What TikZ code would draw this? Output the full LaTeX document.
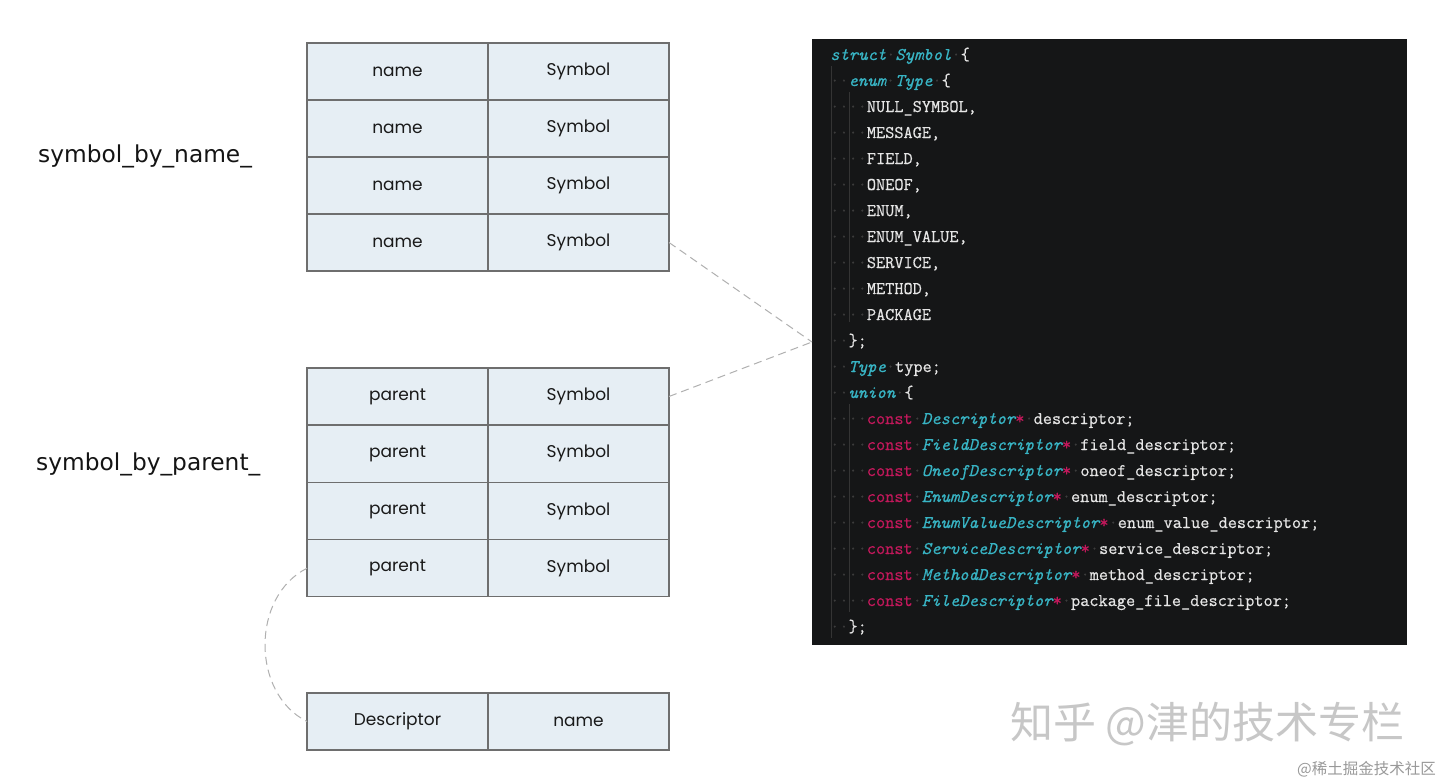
\documentclass[tikz,border=0pt]{standalone}
\usepackage{fontspec}
\setmainfont{Poppins}
\newfontfamily\lblfont{DejaVu Sans}
\newfontfamily\cjkfont{Noto Sans CJK SC}
\newfontfamily\codefont[FakeBold=0.5]{Latin Modern Mono}
\usetikzlibrary{positioning}
\definecolor{cellfill}{HTML}{E6EEF4}
\definecolor{celldraw}{HTML}{6E6E6E}
\definecolor{codebg}{HTML}{151617}
\definecolor{cyanish}{HTML}{38B4C4}
\definecolor{crim}{HTML}{C2185B}
\definecolor{codefg}{HTML}{E6E6E6}
\definecolor{dimdot}{HTML}{3C3C3C}
\definecolor{guide}{HTML}{343434}
\definecolor{dashgray}{HTML}{B0B0B0}
\newcommand{\kw}[1]{{\itshape\color{cyanish}#1}}
\newcommand{\cst}[1]{{\color{crim}#1}}
\newcommand{\dt}{{\color{dimdot}\symbol{"00B7}}}
\tikzset{
  cell/.style={rectangle, anchor=north west, minimum width=181pt, minimum height=57pt,
    inner sep=0pt, outer sep=0pt, fill=cellfill, draw=celldraw, line width=1.1pt,
    font=\fontsize{17}{20}\selectfont, text=black!90},
  lbl/.style={anchor=west, inner sep=0pt, font=\lblfont\fontsize{23.3}{27}\selectfont, text=black!92},
  codeline/.style={anchor=base west, inner sep=0pt, text=codefg,
    font=\codefont\fontsize{17.8}{26}\selectfont},
  link/.style={draw=dashgray, line width=1pt, dash pattern=on 8pt off 5pt},
  guideline/.style={draw=guide, line width=1pt}
}
\begin{document}
\begin{tikzpicture}[x=1pt,y=-1pt]
\useasboundingbox (0,0) rectangle (1440,784);
\fill[white] (0,0) rectangle (1440,784);

% labels
\node[lbl] (l1) at (38,156) {symbol\_by\_name\_};
\node[lbl] (l2) at (36,464) {symbol\_by\_parent\_};

% table 1
\foreach \i/\y in {1/43,2/100,3/157,4/214}{
  \node[cell] (a\i) at (307,\y) {name};
  \node[cell] (b\i) at (488,\y) {Symbol};
}
% table 2
\foreach \i/\y in {1/368,2/425.25,3/482.5,4/539.75}{
  \node[cell] (c\i) at (307,\y) {parent};
  \node[cell] (d\i) at (488,\y) {Symbol};
}
% table 3
\node[cell] (e1) at (307,693) {Descriptor};
\node[cell] (f1) at (488,693) {name};

% code panel
\node[rectangle, anchor=north west, minimum width=595pt, minimum height=606pt,
  inner sep=0pt, outer sep=0pt, fill=codebg] (code) at (812,39) {};

% indent guides
\draw[guideline] (831,66) -- (831,638);
\draw[guideline] (849,92) -- (849,322);
\draw[guideline] (849,404) -- (849,612);

\node[codeline] (k1) at (830,60) {\kw{struct}\dt\kw{Symbol}\dt\{};
\node[codeline] (k2) at (830,86) {\dt\dt\kw{enum}\dt\kw{Type}\dt\{};
\node[codeline] (k3) at (830,112) {\dt\dt\dt\dt NULL\_SYMBOL,};
\node[codeline] (k4) at (830,138) {\dt\dt\dt\dt MESSAGE,};
\node[codeline] (k5) at (830,164) {\dt\dt\dt\dt FIELD,};
\node[codeline] (k6) at (830,190) {\dt\dt\dt\dt ONEOF,};
\node[codeline] (k7) at (830,216) {\dt\dt\dt\dt ENUM,};
\node[codeline] (k8) at (830,242) {\dt\dt\dt\dt ENUM\_VALUE,};
\node[codeline] (k9) at (830,268) {\dt\dt\dt\dt SERVICE,};
\node[codeline] (k10) at (830,294) {\dt\dt\dt\dt METHOD,};
\node[codeline] (k11) at (830,320) {\dt\dt\dt\dt PACKAGE};
\node[codeline] (k12) at (830,346) {\dt\dt\};};
\node[codeline] (k13) at (830,372) {\dt\dt\kw{Type}\dt type;};
\node[codeline] (k14) at (830,398) {\dt\dt\kw{union}\dt\{};
\node[codeline] (k15) at (830,424) {\dt\dt\dt\dt\cst{const}\dt\kw{Descriptor}\cst{*}\dt descriptor;};
\node[codeline] (k16) at (830,450) {\dt\dt\dt\dt\cst{const}\dt\kw{FieldDescriptor}\cst{*}\dt field\_descriptor;};
\node[codeline] (k17) at (830,476) {\dt\dt\dt\dt\cst{const}\dt\kw{OneofDescriptor}\cst{*}\dt oneof\_descriptor;};
\node[codeline] (k18) at (830,502) {\dt\dt\dt\dt\cst{const}\dt\kw{EnumDescriptor}\cst{*}\dt enum\_descriptor;};
\node[codeline] (k19) at (830,528) {\dt\dt\dt\dt\cst{const}\dt\kw{EnumValueDescriptor}\cst{*}\dt enum\_value\_descriptor;};
\node[codeline] (k20) at (830,554) {\dt\dt\dt\dt\cst{const}\dt\kw{ServiceDescriptor}\cst{*}\dt service\_descriptor;};
\node[codeline] (k21) at (830,580) {\dt\dt\dt\dt\cst{const}\dt\kw{MethodDescriptor}\cst{*}\dt method\_descriptor;};
\node[codeline] (k22) at (830,606) {\dt\dt\dt\dt\cst{const}\dt\kw{FileDescriptor}\cst{*}\dt package\_file\_descriptor;};
\node[codeline] (k23) at (830,632) {\dt\dt\};};

% connectors
\draw[link] (b4.east) -- (code.west);
\draw[link] (d1.east) -- (code.west);
\draw[link] (c4.west) .. controls +(-56,28) and +(-56,-28) .. (e1.west);

% watermarks
\node[anchor=west, inner sep=0pt, text=black!22, font=\cjkfont\fontsize{43}{46}\selectfont] (wm1) at (1010,724) {知乎 @津的技术专栏};
\node[anchor=east, inner sep=0pt, text=black!40, font=\cjkfont\fontsize{15.5}{18}\selectfont] (wm2) at (1436,769) {@稀土掘金技术社区};
\end{tikzpicture}
\end{document}
